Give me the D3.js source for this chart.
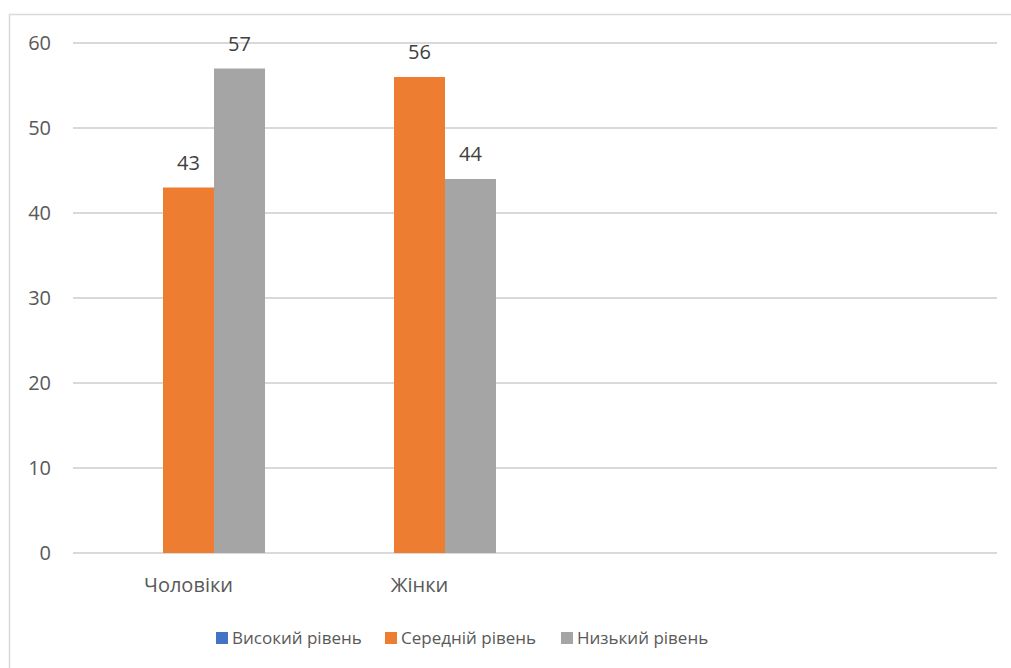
<!DOCTYPE html>
<meta charset="utf-8">
<style>
  body { margin: 0; background: #fff; }
  svg { font-family: "Open Sans", "Noto Sans", sans-serif; }
  .grid line { stroke: #d9d9d9; stroke-width: 1.5; shape-rendering: crispEdges; }
  .lbl { fill: #404040; font-size: 20px; }
  .tick-text { fill: #595959; font-size: 20px; }
  .leg-text { fill: #595959; font-size: 17px; }
</style>
<body>
<script src="https://d3js.org/d3.v7.min.js"></script>
<script>
// categories (the last two slots are empty in the source chart)
var categories = ["Чоловіки", "Жінки", "", ""];
var seriesNames = ["Високий рівень", "Середній рівень", "Низький рівень"];
var seriesColors = ["#4472C4", "#ED7D31", "#A5A5A5"];
var high = [null, null, null, null];
var medium = [43, 56, null, null];
var low = [57, 44, null, null];
var yTicks = [0, 10, 20, 30, 40, 50, 60];

var series = [high, medium, low];

var W = 1011, H = 668;
var margin = {top: 43, right: 14, bottom: 115, left: 73};
var width = W - margin.left - margin.right,
    height = H - margin.top - margin.bottom;

var svg = d3.select("body").append("svg")
    .attr("width", W)
    .attr("height", H);

// chart frame
svg.append("rect")
    .attr("x", 9.5).attr("y", 14.5)
    .attr("width", W + 10).attr("height", H + 10)
    .attr("fill", "none")
    .attr("stroke", "#d9d9d9")
    .attr("stroke-width", 1.5);

var g = svg.append("g")
    .attr("transform", "translate(" + margin.left + "," + margin.top + ")");

// one band per category, like Excel
var x0 = d3.scaleBand().domain(d3.range(categories.length)).range([0, width]).padding(0);

var x1 = d3.scaleBand()
    .domain(d3.range(series.length))
    .range([39, x0.bandwidth() - 39]);

var y = d3.scaleLinear().domain([0, 60]).range([height, 0]);

// gridlines
g.append("g").attr("class", "grid")
  .selectAll("line")
  .data(yTicks)
  .enter().append("line")
    .attr("x1", 0).attr("x2", width)
    .attr("y1", function(d) { return y(d); })
    .attr("y2", function(d) { return y(d); });

// y tick labels
g.append("g")
  .selectAll("text")
  .data(yTicks)
  .enter().append("text")
    .attr("class", "tick-text")
    .attr("x", -22)
    .attr("y", function(d) { return y(d); })
    .attr("dy", "0.35em")
    .attr("text-anchor", "end")
    .text(function(d) { return d; });

// bars
var cat = g.selectAll(".cat")
  .data(categories)
  .enter().append("g")
    .attr("class", "cat")
    .attr("transform", function(d, i) { return "translate(" + x0(i) + ",0)"; });

cat.selectAll("rect")
  .data(function(d, i) { return series.map(function(s, k) { return {k: k, v: s[i]}; }); })
  .enter().filter(function(d) { return d.v != null; }).append("rect")
    .attr("x", function(d) { return x1(d.k); })
    .attr("width", x1.bandwidth())
    .attr("y", function(d) { return y(d.v); })
    .attr("height", function(d) { return height - y(d.v); })
    .attr("fill", function(d) { return seriesColors[d.k]; });

cat.selectAll("text.val")
  .data(function(d, i) { return series.map(function(s, k) { return {k: k, v: s[i]}; }); })
  .enter().filter(function(d) { return d.v != null; }).append("text")
    .attr("class", "lbl val")
    .attr("x", function(d) { return x1(d.k) + x1.bandwidth() / 2; })
    .attr("y", function(d) { return y(d.v) - 18; })
    .attr("text-anchor", "middle")
    .text(function(d) { return d.v; });

// category labels
g.append("g")
  .selectAll("text")
  .data(categories)
  .enter().append("text")
    .attr("class", "tick-text")
    .attr("x", function(d, i) { return x0(i) + x0.bandwidth() / 2; })
    .attr("y", height + 39)
    .attr("text-anchor", "middle")
    .text(function(d) { return d; });

// legend
var legendX = [216, 385, 561];
var legend = svg.append("g").selectAll("g")
  .data(seriesNames)
  .enter().append("g")
    .attr("transform", function(d, i) { return "translate(" + legendX[i] + ",632)"; });

legend.append("rect")
    .attr("width", 12).attr("height", 12)
    .attr("fill", function(d, i) { return seriesColors[i]; });

legend.append("text")
    .attr("class", "leg-text")
    .attr("x", 16)
    .attr("y", 6)
    .attr("dy", "0.35em")
    .text(function(d) { return d; });
</script>
</body>
